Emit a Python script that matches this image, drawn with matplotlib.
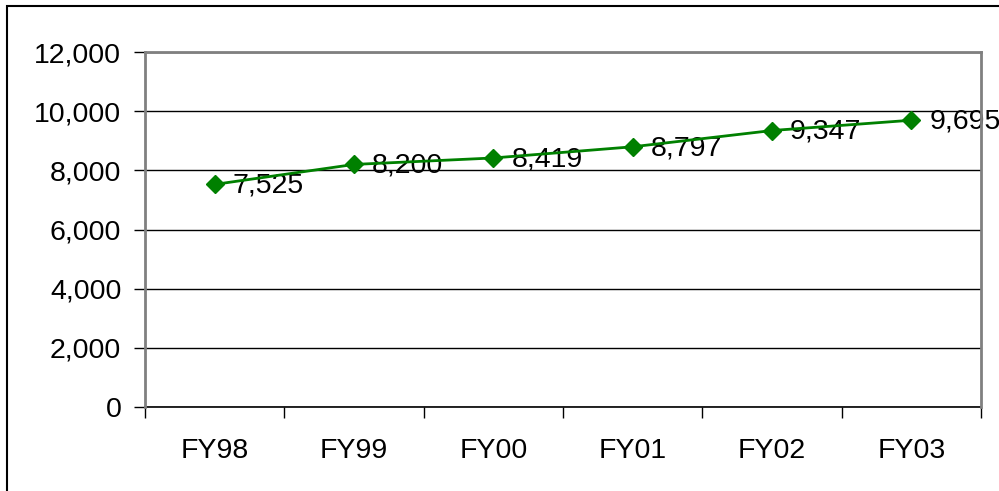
import matplotlib.pyplot as plt
from matplotlib.patches import Rectangle
from matplotlib.ticker import FuncFormatter, FixedLocator

plt.rcParams['font.family'] = ['Liberation Sans', 'DejaVu Sans']

years = ['FY98', 'FY99', 'FY00', 'FY01', 'FY02', 'FY03']
values = [7525, 8200, 8419, 8797, 9347, 9695]

fig = plt.figure(figsize=(9.99, 4.91), dpi=100)
ax = fig.add_axes([0.1451, 0.1711, 0.982 - 0.1451, 0.894 - 0.1711])

# outer chart frame (left and top only visible)
fig.patches.append(Rectangle((7 / 999, -0.1), 1.2, (491 - 6) / 491 + 0.1,
                             transform=fig.transFigure, fill=False,
                             edgecolor='black', linewidth=1.5))

x = list(range(len(years)))
ax.plot(x, values, color='#008000', linewidth=2, marker='D', markersize=9,
        zorder=3, clip_on=False)
for xi, v in zip(x, values):
    ax.annotate(f'{v:,}', (xi, v), xytext=(13, -1), textcoords='offset points',
                ha='left', va='center', fontsize=20.5, zorder=2)

ax.set_xlim(-0.5, len(years) - 0.5)
ax.set_ylim(0, 12000)
ax.set_yticks(range(0, 12001, 2000))
ax.yaxis.set_major_formatter(FuncFormatter(lambda v, p: f'{int(v):,}'))
ax.set_xticks(x)
ax.set_xticklabels(years)
ax.xaxis.set_minor_locator(FixedLocator([i - 0.5 for i in range(len(years) + 1)]))

ax.tick_params(axis='x', which='major', length=0, pad=22, labelsize=20.5)
ax.tick_params(axis='x', which='minor', length=8, width=1, color='black', direction='out')
ax.tick_params(axis='y', length=8, width=1, color='black', direction='out', pad=9, labelsize=20.5)

ax.grid(axis='y', color='black', linewidth=1)
ax.set_axisbelow(True)

for side in ['left', 'right', 'top']:
    ax.spines[side].set_color('#808080')
    ax.spines[side].set_linewidth(2)
    ax.spines[side].set_zorder(4)
ax.spines['bottom'].set_color('black')
ax.spines['bottom'].set_linewidth(1.2)

fig.savefig('out.png', dpi=100)
